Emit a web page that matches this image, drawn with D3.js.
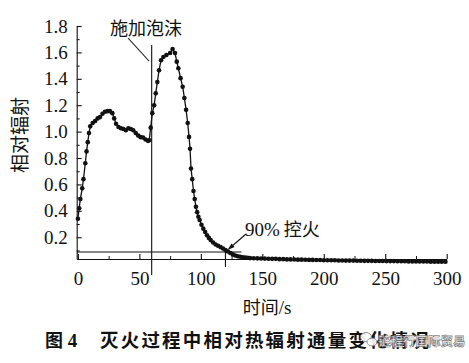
<!DOCTYPE html>
<html><head><meta charset="utf-8">
<script src="https://cdn.jsdelivr.net/npm/d3@7"></script>
<style>
html,body{margin:0;padding:0;background:#fff;}
svg{display:block;}
</style></head>
<body>
<svg id="chart" width="469" height="363"></svg>
<script>
// ---- data ----
const time = [0,1,2,3.5,4.5,6,7,8,9,10,12,14,16,18,20,22,24,26,28,29.5,31,33,35,37,39,41,43,45,47,49,51,53,55,57,58,
  59.2,60.5,62,63.3,64.6,66,67.6,69.5,72,75,77,79,80.4,81.7,83.5,85.2,86.6,88,89.3,90.4,91.2,92,93,94,95,96,97,98,99,
  100.5,102,103.5,105,106.5,108,110,112,114,116,118,120,122,124,126,128,130,132,134,136,138,140,
  143,146,149,152,155,158,161,164,167,170,173,176,179,182,185,188,191,194,197,200,203,206,209,212,215,218,221,224,227,
  230,233,236,239,242,245,248,251,254,257,260,263,266,269,272,275,278,281,284,287,290,293,296,299];
const flux = [0.34,0.42,0.49,0.57,0.64,0.76,0.85,0.92,0.99,1.04,1.065,1.08,1.10,1.11,1.135,1.15,1.155,1.155,1.14,1.10,1.06,1.035,1.025,1.02,1.01,1.025,1.02,1.01,0.99,0.97,0.958,0.955,0.94,0.93,0.935,
  1.03,1.14,1.20,1.29,1.375,1.465,1.54,1.565,1.58,1.595,1.625,1.595,1.53,1.48,1.405,1.34,1.255,1.165,1.065,0.96,0.87,0.72,0.64,0.55,0.49,0.43,0.39,0.355,0.33,
  0.295,0.265,0.24,0.215,0.195,0.178,0.16,0.145,0.135,0.125,0.115,0.103,0.092,0.08,0.07,0.062,0.056,0.052,0.048,0.046,0.044,0.042,
  0.041,0.040,0.039,0.038,0.037,0.036,0.036,0.034,0.034,0.032,0.032,0.031,0.030,0.030,0.029,0.028,0.028,0.027,0.027,0.026,0.026,0.025,0.025,0.024,0.024,0.023,0.023,0.023,0.022,
  0.022,0.021,0.021,0.021,0.020,0.020,0.020,0.019,0.019,0.019,0.018,0.018,0.018,0.017,0.017,0.017,0.016,0.016,0.016,0.015,0.015,0.015,0.014,0.014];
const xTicks = [0,50,100,150,200,250,300];
const xMinorTicks = [25,75,125,175,225,275];
const yTicks = [0.2,0.4,0.6,0.8,1.0,1.2,1.4,1.6,1.8];
const yMinorTicks = [0.1,0.3,0.5,0.7,0.9,1.1,1.3,1.5,1.7];
const foamTime = 60;
const controlTime = 120;
const controlLevel = 0.088;
const foamLabel = "施加泡沫";
const controlPct = "90%";
const controlWord = "控火";
const yLabel = "相对辐射";
const xLabel = "时间/s";
const captionNum = "图 4";
const captionText = "灭火过程中相对热辐射通量变化情况";
const watermark = "链程行国际贸易";

// ---- drawing ----
const svg = d3.select("#chart");
const x = d3.scaleLinear().domain([-1, 300]).range([76.7, 446.7]);
const y = d3.scaleLinear().domain([0.035, 1.8]).range([259, 26]);
const ink = "#111";
const SERIF = '"Liberation Serif", serif';
const CJK = '"Noto Sans CJK SC", sans-serif';

// y axis
const yAxis = svg.append("g").attr("transform", `translate(${x(-1)},0)`)
  .call(d3.axisLeft(y).tickValues(yTicks).tickFormat(d3.format(".1f"))
    .tickSizeInner(-5).tickSizeOuter(0).tickPadding(9));
yAxis.selectAll("text").style("font-family", SERIF).style("font-size", "19px").attr("fill", ink);
yAxis.selectAll("line,path").attr("stroke", ink).attr("stroke-width", 1.1);
const yMinor = svg.append("g").attr("transform", `translate(${x(-1)},0)`)
  .call(d3.axisLeft(y).tickValues(yMinorTicks).tickFormat("").tickSizeInner(-3).tickSizeOuter(0));
yMinor.select("path").remove();
yMinor.selectAll("line").attr("stroke", ink);

// x axis
const xAxis = svg.append("g").attr("transform", `translate(0,${y(0.035)})`)
  .call(d3.axisBottom(x).tickValues(xTicks).tickFormat(d3.format("d"))
    .tickSizeInner(-5).tickSizeOuter(0).tickPadding(13));
xAxis.selectAll("text").style("font-family", SERIF).style("font-size", "19px").attr("fill", ink);
xAxis.selectAll("line,path").attr("stroke", ink).attr("stroke-width", 1.1);
const xMinor = svg.append("g").attr("transform", `translate(0,${y(0.035)})`)
  .call(d3.axisBottom(x).tickValues(xMinorTicks).tickFormat("").tickSizeInner(-3).tickSizeOuter(0));
xMinor.select("path").remove();
xMinor.selectAll("line").attr("stroke", ink);

// threshold line
svg.append("line")
  .attr("x1", x(-1)).attr("x2", x(133))
  .attr("y1", y(controlLevel)).attr("y2", y(controlLevel))
  .attr("stroke", ink).attr("stroke-width", 1.1);
// 90% control vertical marker
svg.append("line")
  .attr("x1", x(controlTime)).attr("x2", x(controlTime))
  .attr("y1", y(controlLevel)).attr("y2", y(controlLevel) + 15)
  .attr("stroke", ink).attr("stroke-width", 1.1);
// foam application vertical line
svg.append("line")
  .attr("x1", x(foamTime)).attr("x2", x(foamTime))
  .attr("y1", 45).attr("y2", 275)
  .attr("stroke", ink).attr("stroke-width", 1.1);

// series
const pts = time.map((t, i) => [t, flux[i]]);
svg.append("path").datum(pts)
  .attr("d", d3.line().x(d => x(d[0])).y(d => y(d[1])))
  .attr("fill", "none").attr("stroke", ink).attr("stroke-width", 1.3);
svg.append("g").selectAll("circle").data(pts).join("circle")
  .attr("cx", d => x(d[0])).attr("cy", d => y(d[1])).attr("r", 2.3).attr("fill", ink);

// annotations
svg.append("text").text(foamLabel).attr("x", 110).attr("y", 35)
  .style("font-family", CJK).style("font-size", "18px").attr("fill", ink);
svg.append("line").attr("x1", 128).attr("y1", 38).attr("x2", 149).attr("y2", 61)
  .attr("stroke", ink).attr("stroke-width", 1.1);

const ctl = svg.append("text").attr("x", 245).attr("y", 236).attr("fill", ink);
ctl.append("tspan").text(controlPct).style("font-family", SERIF).style("font-size", "19px");
ctl.append("tspan").text(" " + controlWord).style("font-family", CJK).style("font-size", "18px");
svg.append("line").attr("x1", 246).attr("y1", 234).attr("x2", 231).attr("y2", 247)
  .attr("stroke", ink).attr("stroke-width", 1.1);
svg.append("path").attr("d", "M227.5,250 L231.5,243.5 L234.5,247 Z").attr("fill", ink);

// axis titles
svg.append("text").text(yLabel)
  .attr("transform", "translate(27,135) rotate(-90)")
  .attr("text-anchor", "middle").style("font-family", CJK).style("font-size", "19px").attr("fill", ink);
const xl = svg.append("text").attr("x", 267).attr("y", 314).attr("text-anchor", "middle").attr("fill", ink);
xl.append("tspan").text(xLabel.slice(0, 2)).style("font-family", CJK).style("font-size", "18px");
xl.append("tspan").text(xLabel.slice(2)).style("font-family", SERIF).style("font-size", "19px");

// caption
const cn = svg.append("text").attr("x", 45).attr("y", 347).attr("fill", ink).style("font-weight", 700);
cn.append("tspan").text(captionNum.slice(0, 1)).style("font-family", CJK).style("font-size", "18px");
cn.append("tspan").text(" " + captionNum.slice(2)).style("font-family", SERIF).style("font-size", "19px");
svg.append("text").text(captionText).attr("x", 100).attr("y", 347)
  .style("font-family", CJK).style("font-weight", 700).style("font-size", "18.5px")
  .attr("letter-spacing", 2.2).attr("fill", ink);

// watermark
const wm = svg.append("g").attr("opacity", 0.9);
wm.append("ellipse").attr("cx", 366).attr("cy", 337).attr("rx", 5.5).attr("ry", 4.5)
  .attr("fill", "#fff").attr("stroke", "#888").attr("stroke-width", 1);
wm.append("ellipse").attr("cx", 372).attr("cy", 342).attr("rx", 5).attr("ry", 4)
  .attr("fill", "#fff").attr("stroke", "#888").attr("stroke-width", 1);
wm.append("text").text(watermark).attr("x", 378).attr("y", 346)
  .style("font-family", CJK).style("font-size", "12.5px").style("font-weight", 700)
  .attr("fill", "#fff").attr("stroke", "#777").attr("stroke-width", 0.7);
</script>
</body></html>
